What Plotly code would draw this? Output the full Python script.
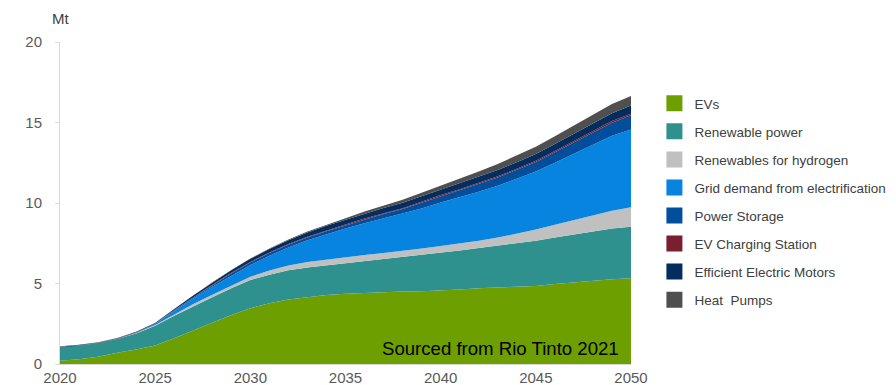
import plotly.graph_objects as go

years = list(range(2020, 2051))

# Layer values (Mt)
evs = [0.20, 0.30, 0.45, 0.70, 0.90, 1.15, 1.60, 2.10, 2.60, 3.05, 3.46, 3.78, 4.00, 4.15, 4.28, 4.37,
       4.42, 4.46, 4.50, 4.52, 4.55, 4.62, 4.70, 4.75, 4.80, 4.85, 4.97, 5.08, 5.18, 5.26, 5.32]
renewable_power = [0.85, 0.85, 0.85, 0.85, 1.00, 1.23, 1.40, 1.50, 1.55, 1.65, 1.76, 1.77, 1.82, 1.85, 1.85, 1.88,
                   1.95, 2.04, 2.12, 2.25, 2.37, 2.43, 2.50, 2.60, 2.70, 2.80, 2.88, 2.97, 3.07, 3.16, 3.21]
renewables_hydrogen = [0.00, 0.00, 0.00, 0.01, 0.02, 0.05, 0.08, 0.12, 0.15, 0.18, 0.20, 0.25, 0.30, 0.33, 0.36, 0.38,
                       0.40, 0.40, 0.40, 0.41, 0.41, 0.43, 0.45, 0.50, 0.60, 0.70, 0.80, 0.90, 1.00, 1.10, 1.20]
grid_demand = [0.00, 0.00, 0.00, 0.00, 0.01, 0.05, 0.20, 0.35, 0.50, 0.62, 0.73, 0.93, 1.12, 1.35, 1.57, 1.78,
               1.98, 2.15, 2.30, 2.48, 2.70, 2.88, 3.05, 3.22, 3.40, 3.60, 3.85, 4.10, 4.40, 4.65, 4.84]
power_storage = [0.01, 0.01, 0.01, 0.01, 0.02, 0.02, 0.04, 0.06, 0.08, 0.12, 0.15, 0.16, 0.17, 0.18, 0.19, 0.20,
                 0.23, 0.27, 0.30, 0.35, 0.40, 0.44, 0.48, 0.52, 0.56, 0.60, 0.65, 0.70, 0.75, 0.82, 0.88]
ev_charging = [0.01, 0.01, 0.01, 0.01, 0.02, 0.02, 0.03, 0.03, 0.04, 0.04, 0.04, 0.04, 0.05, 0.05, 0.05, 0.05,
               0.05, 0.05, 0.06, 0.06, 0.06, 0.06, 0.07, 0.07, 0.07, 0.08, 0.08, 0.09, 0.09, 0.10, 0.10]
efficient_motors = [0.02, 0.02, 0.02, 0.02, 0.03, 0.03, 0.06, 0.10, 0.13, 0.16, 0.19, 0.21, 0.23, 0.25, 0.28, 0.30,
                    0.31, 0.32, 0.33, 0.34, 0.35, 0.36, 0.38, 0.39, 0.40, 0.42, 0.44, 0.45, 0.47, 0.49, 0.50]
heat_pumps = [0.01, 0.01, 0.01, 0.01, 0.01, 0.01, 0.01, 0.01, 0.02, 0.02, 0.02, 0.03, 0.05, 0.07, 0.08, 0.10,
              0.13, 0.16, 0.19, 0.22, 0.25, 0.29, 0.33, 0.37, 0.41, 0.45, 0.48, 0.51, 0.54, 0.57, 0.60]

series_names = ["EVs", "Renewable power", "Renewables for hydrogen", "Grid demand from electrification",
                "Power Storage", "EV Charging Station", "Efficient Electric Motors", "Heat  Pumps"]
series_values = [evs, renewable_power, renewables_hydrogen, grid_demand,
                 power_storage, ev_charging, efficient_motors, heat_pumps]
series_colors = ["#6E9F00", "#2E918D", "#C0C0C0", "#0784E0", "#034E9C", "#7A1F30", "#032D5E", "#4F4F4F"]

y_ticks = [0, 5, 10, 15, 20]
x_ticks = [2020, 2025, 2030, 2035, 2040, 2045, 2050]

FONT = "Liberation Sans, Arial, sans-serif"

fig = go.Figure()
for name, vals, col in zip(series_names, series_values, series_colors):
    fig.add_trace(go.Scatter(
        x=years, y=vals, name=name, stackgroup="one", mode="lines",
        line=dict(width=0, color=col), fillcolor=col, showlegend=False,
        hoverinfo="x+y+name"))
for name, col in zip(series_names, series_colors):
    fig.add_trace(go.Scatter(
        x=[None], y=[None], name=name, mode="markers", legendgroup=name,
        marker=dict(symbol="square", size=16, color=col, line=dict(width=0))))

fig.update_layout(
    width=896, height=385,
    margin=dict(l=60, r=265, t=42, b=21, autoexpand=False),
    paper_bgcolor="white", plot_bgcolor="white",
    font=dict(family=FONT, color="#595959", size=15),
    showlegend=True,
    legend=dict(
        x=1.041, y=0.857, xanchor="left", yanchor="top",
        traceorder="grouped", tracegroupgap=7.5, itemsizing="trace",
        font=dict(family=FONT, size=13.5, color="#404040"),
        bgcolor="rgba(0,0,0,0)", borderwidth=0),
    xaxis=dict(
        range=[2020, 2050], tickvals=x_ticks, ticktext=[str(v) for v in x_ticks],
        showgrid=False, zeroline=False, showline=True, linecolor="#D9D9D9", linewidth=1,
        ticks="", tickfont=dict(size=15, color="#595959"), fixedrange=True, automargin=False),
    yaxis=dict(
        range=[0, 20], tickvals=y_ticks, ticktext=[str(v) for v in y_ticks],
        showgrid=False, zeroline=False, showline=True, linecolor="#D9D9D9", linewidth=1,
        ticks="outside", ticklen=4, tickcolor="#D9D9D9", ticklabelstandoff=10,
        tickfont=dict(size=15, color="#595959"), fixedrange=True, automargin=False),
    annotations=[
        dict(text="Mt", xref="paper", yref="paper", x=0.0, y=1.072, xanchor="center", yanchor="middle",
             showarrow=False, font=dict(family=FONT, size=15, color="#404040")),
        dict(text="Sourced from Rio Tinto 2021", xref="paper", yref="paper", x=0.9825, y=0.047,
             xanchor="right", yanchor="middle", showarrow=False,
             font=dict(family=FONT, size=18.6, color="#000000")),
    ],
)

fig.write_html("out.html")
